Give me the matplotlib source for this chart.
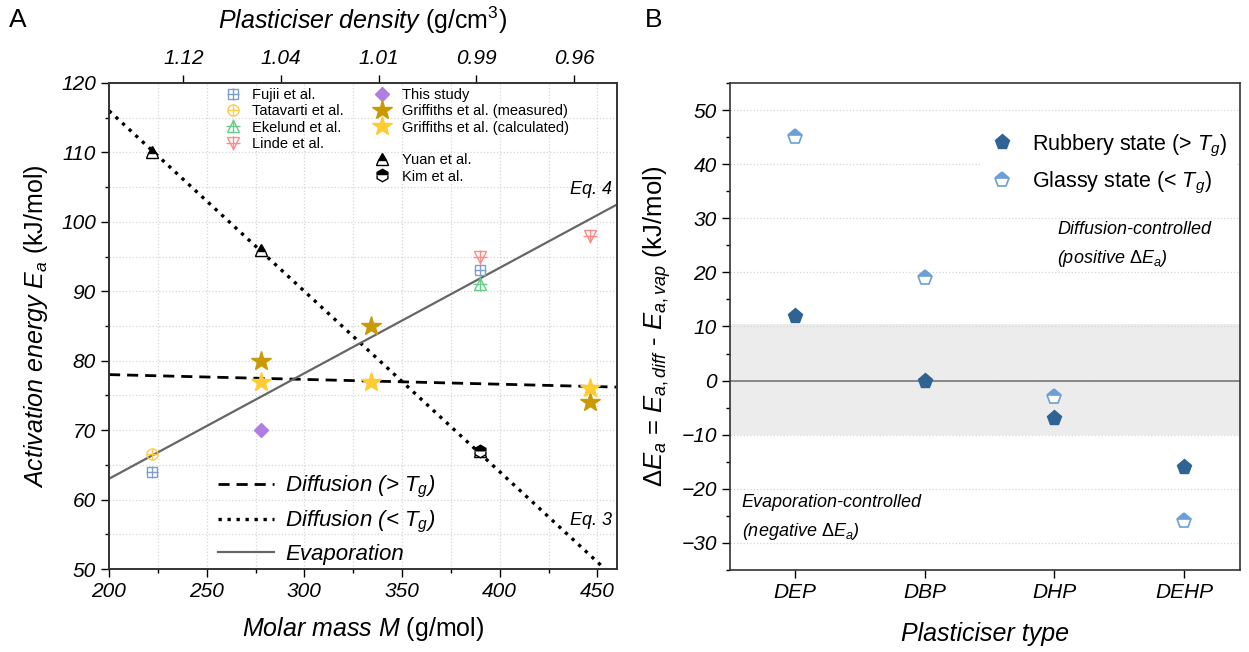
import numpy as np
import matplotlib.pyplot as plt
from matplotlib.lines import Line2D

plt.rcParams['font.family'] = ['Liberation Sans', 'DejaVu Sans']
plt.rcParams['mathtext.fontset'] = 'custom'
plt.rcParams['mathtext.rm'] = 'Liberation Sans'
plt.rcParams['mathtext.it'] = 'Liberation Sans:italic'
plt.rcParams['mathtext.bf'] = 'Liberation Sans:bold'

######################### data: panel A #########################
fujii_M = [222, 390]
fujii_E = [64, 93]
tatavarti_M = [222]
tatavarti_E = [66.5]
ekelund_M = [390]
ekelund_E = [91]
linde_M = [390, 446]
linde_E = [95, 98]
this_M = [278]
this_E = [70]
griff_meas_M = [278, 334, 446]
griff_meas_E = [80, 85, 74]
griff_calc_M = [278, 334, 446]
griff_calc_E = [77, 77, 76]
yuan_M = [222, 278, 390]
yuan_E = [110, 96, 67]
kim_M = [390]
kim_E = [67]

# model lines (end points)
line_M = [200, 460]
diff_above = [78.0, 76.2]
diff_below = [116.0, 48.4]
evaporation = [63.0, 102.5]

density_pos = [238, 288, 338, 388, 438]
density_labels = ['1.12', '1.04', '1.01', '0.99', '0.96']

######################### data: panel B #########################
plasticisers = ['DEP', 'DBP', 'DHP', 'DEHP']
rubbery = [12, 0, -7, -16]
glassy = [45, 19, -3, -26]

fig = plt.figure(figsize=(12.49, 6.52), dpi=100)
axA = fig.add_axes([0.0873, 0.1273, 0.4067, 0.7454])
axB = fig.add_axes([0.5845, 0.1258, 0.4083, 0.7469])

grid_kw = dict(color='#d6d6d6', linestyle=':', linewidth=0.9)

######################### panel A #########################
axA.set_xlim(200, 460)
axA.set_ylim(50, 120)
axA.set_xticks(np.arange(200, 451, 50))
axA.set_xticks(np.arange(225, 460, 50), minor=True)
axA.set_yticks(np.arange(50, 121, 10))
axA.set_yticks(np.arange(55, 120, 10), minor=True)
axA.grid(True, which='both', **grid_kw)
axA.set_axisbelow(True)
axA.tick_params(which='major', direction='out', length=6, width=1, labelsize=15)
axA.tick_params(which='minor', direction='out', length=3, width=1)
for s in axA.spines.values():
    s.set_linewidth(1.2)
    s.set_color('#333333')

la, = axA.plot(line_M, diff_above, color='black', ls=(0, (4, 2.5)), lw=2, zorder=2)
lb, = axA.plot(line_M, diff_below, color='black', ls=(0, (1, 1.7)), lw=2.4, zorder=2)
le, = axA.plot(line_M, evaporation, color='#666666', ls='-', lw=1.6, zorder=2)


def open_plus(x, y, marker, color, ms=8):
    a, = axA.plot(x, y, ls='none', marker=marker, ms=ms, mfc='none', mec=color, mew=1, zorder=3)
    b, = axA.plot(x, y, ls='none', marker='+', ms=ms * 1.15, mec=color, mew=1, zorder=3)
    return (a, b)


h_fujii = open_plus(fujii_M, fujii_E, 's', '#7b9fcf', 7.5)
h_tat = open_plus(tatavarti_M, tatavarti_E, 'o', '#ffc94d', 8)
h_eke = open_plus(ekelund_M, ekelund_E, '^', '#66cc88', 9)
h_lin = open_plus(linde_M, linde_E, 'v', '#ff8a8a', 9)
h_this, = axA.plot(this_M, this_E, ls='none', marker='D', ms=7.5, color='#b07ee0', zorder=3)
h_gm, = axA.plot(griff_meas_M, griff_meas_E, ls='none', marker='*', ms=15, color='#c99a06', mec='#c99a06', zorder=4)
h_gc, = axA.plot(griff_calc_M, griff_calc_E, ls='none', marker='*', ms=15, color='#ffcc33', mec='#ffcc33', zorder=4)
h_yuan, = axA.plot(yuan_M, yuan_E, ls='none', marker='^', ms=9, fillstyle='top', mfc='black',
                   mfcalt='white', mec='black', mew=1, zorder=4)
h_kim, = axA.plot(kim_M, kim_E, ls='none', marker='h', ms=9, fillstyle='top', mfc='black',
                  mfcalt='white', mec='black', mew=1, zorder=5)

blank = Line2D([], [], ls='none')
leg1 = axA.legend([h_fujii, h_tat, h_eke, h_lin, blank, blank,
                   h_this, h_gm, h_gc, blank, h_yuan, h_kim],
                  ['Fujii et al.', 'Tatavarti et al.', 'Ekelund et al.', 'Linde et al.', '', '',
                   'This study', 'Griffiths et al. (measured)', 'Griffiths et al. (calculated)', '',
                   'Yuan et al.', 'Kim et al.'],
                  ncol=2, loc='upper left', bbox_to_anchor=(0.226, 0.99), frameon=False,
                  fontsize=10.5, labelspacing=0.16, handlelength=1.2, handletextpad=0.75,
                  columnspacing=2.0, borderpad=0, borderaxespad=0)
axA.add_artist(leg1)
axA.legend([la, lb, le], ['Diffusion (> $T_g$)', 'Diffusion (< $T_g$)', 'Evaporation'],
           loc='upper left', bbox_to_anchor=(0.215, 0.195), frameon=False,
           prop={'size': 16, 'style': 'italic'}, labelspacing=0.4, handlelength=2.5,
           handletextpad=0.5, borderpad=0, borderaxespad=0)

axA.text(436, 104.6, 'Eq. 4', fontsize=13, style='italic', ha='left', va='center')
axA.text(436, 57, 'Eq. 3', fontsize=13, style='italic', ha='left', va='center')

axA.set_xlabel(r'Molar mass M $\mathrm{(g/mol)}$', fontsize=18, style='italic', labelpad=10)
axA.set_ylabel(r'Activation energy $E_a$ $\mathrm{(kJ/mol)}$', fontsize=18, style='italic', labelpad=8)

axT = axA.twiny()
axT.set_xlim(axA.get_xlim())
axT.set_xticks(density_pos)
axT.set_xticklabels(density_labels)
axT.tick_params(direction='out', length=6, width=1, labelsize=15, pad=5)
axT.set_xlabel(r'Plasticiser density $\mathrm{(g/cm^3)}$', fontsize=18, style='italic', labelpad=14)
for s in axT.spines.values():
    s.set_linewidth(1.2)
    s.set_color('#333333')

for t in axA.get_xticklabels() + axA.get_yticklabels() + axT.get_xticklabels():
    t.set_fontstyle('italic')

######################### panel B #########################
xpos = np.arange(len(plasticisers))
axB.set_xlim(-0.5, 3.43)
axB.set_ylim(-35, 55)
axB.axhspan(-10, 10.4, color='#ececec', zorder=0, lw=0)
axB.set_yticks(np.arange(-30, 51, 10))
axB.set_yticks(np.arange(-35, 56, 5), minor=True)
axB.yaxis.grid(True, which='major', **grid_kw)
axB.set_axisbelow(True)
axB.axhline(0, color='#777777', lw=1.2, zorder=1)
axB.set_xticks(xpos)
axB.set_xticklabels(plasticisers)
axB.tick_params(which='major', direction='out', length=6, width=1, labelsize=15)
axB.tick_params(which='minor', direction='out', length=3, width=1)
for s in axB.spines.values():
    s.set_linewidth(1.2)
    s.set_color('#333333')

hr, = axB.plot(xpos, rubbery, ls='none', marker='p', ms=11, color='#2f6394', mec='#2f6394', zorder=4)
hg, = axB.plot(xpos, glassy, ls='none', marker='p', ms=11, fillstyle='top', mfc='#6b9fd6',
               mfcalt='white', mec='#6b9fd6', mew=1.2, zorder=3)
legB = axB.legend([hr, hg], ['Rubbery state (> $T_g$)', 'Glassy state (< $T_g$)'],
                  loc='upper right', bbox_to_anchor=(1.0, 0.925), fontsize=15.5, frameon=True,
                  framealpha=1, edgecolor='none', fancybox=False, labelspacing=0.55,
                  handlelength=1.2, handletextpad=0.8, borderaxespad=0.2)

axB.text(2.02, 28, 'Diffusion-controlled', fontsize=13, style='italic', ha='left', va='center')
axB.text(2.02, 22.5, r'(positive $\Delta E_a$)', fontsize=13, style='italic', ha='left', va='center')
axB.text(-0.41, -22.5, 'Evaporation-controlled', fontsize=13, style='italic', ha='left', va='center')
axB.text(-0.41, -27.8, r'(negative $\Delta E_a$)', fontsize=13, style='italic', ha='left', va='center')

axB.set_xlabel('Plasticiser type', fontsize=18, style='italic', labelpad=14)
axB.set_ylabel(r'$\Delta E_a$ = $E_{a,diff}$ - $E_{a,vap}$ (kJ/mol)', fontsize=18.5, labelpad=6)
for t in axB.get_xticklabels() + axB.get_yticklabels():
    t.set_fontstyle('italic')

fig.text(0.007, 0.97, 'A', fontsize=19, va='center', ha='left')
fig.text(0.516, 0.97, 'B', fontsize=19, va='center', ha='left')

fig.savefig('out.png', dpi=100)
